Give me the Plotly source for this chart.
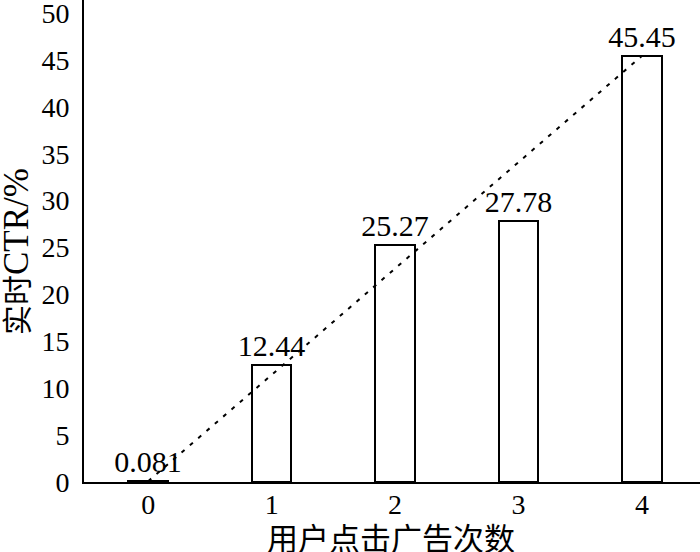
import plotly.graph_objects as go

categories = [0, 1, 2, 3, 4]
ctr_values = [0.081, 12.44, 25.27, 27.78, 45.45]
value_labels = ["0.081", "12.44", "25.27", "27.78", "45.45"]
trend_x = [0, 4]
trend_y = [0.081, 45.45]
y_ticks = [0, 5, 10, 15, 20, 25, 30, 35, 40, 45, 50]

serif = "Liberation Serif, DejaVu Serif, Noto Sans CJK SC, serif"

W, H = 700, 552
L, B = 84, 70
PW, PH = W - L, H - B

fig = go.Figure()
fig.add_trace(go.Bar(
    x=categories, y=ctr_values, width=0.32,
    marker=dict(color="white", line=dict(color="black", width=2)),
    text=value_labels, textposition="outside", cliponaxis=False,
    constraintext="none",
    textfont=dict(family=serif, size=30, color="black"),
    showlegend=False,
))
fig.add_trace(go.Scatter(
    x=trend_x, y=trend_y, mode="lines",
    line=dict(color="black", width=2, dash="4px,7px"),
    showlegend=False, cliponaxis=False,
))

fig.update_layout(
    width=W, height=H,
    margin=dict(l=L, r=0, t=0, b=B, autoexpand=False),
    paper_bgcolor="white", plot_bgcolor="white",
    font=dict(family=serif, color="black"),
    xaxis=dict(
        range=[-0.52, 4.47], tickvals=categories,
        ticktext=[str(c) for c in categories],
        showline=True, linecolor="black", linewidth=2,
        showgrid=False, zeroline=False, ticks="",
        automargin=False, ticklabelstandoff=-4,
        tickfont=dict(family=serif, size=28),
    ),
    yaxis=dict(
        range=[0, 51.4], tickvals=y_ticks,
        showline=True, linecolor="black", linewidth=2,
        showgrid=False, zeroline=False, ticks="",
        automargin=False, ticklabelstandoff=7,
        ticklabeloverflow="allow",
        tickfont=dict(family=serif, size=28),
    ),
    annotations=[
        dict(text="用户点击广告次数", xref="paper", yref="paper",
             x=(391 - L) / PW, y=(PH - 536) / PH,
             xanchor="center", yanchor="middle", showarrow=False,
             font=dict(family="Noto Sans CJK SC", size=31)),
        dict(text="实时<span style='font-size:35px'>CTR/%</span>",
             xref="paper", yref="paper",
             x=(17 - L) / PW, y=(PH - 252) / PH, textangle=-90,
             xanchor="center", yanchor="middle", showarrow=False,
             font=dict(family="Liberation Serif, Noto Sans CJK SC", size=30)),
    ],
    bargap=0,
)

fig.write_html("out.html", config={"displayModeBar": False},
               post_script="document.body.style.margin='0';")
